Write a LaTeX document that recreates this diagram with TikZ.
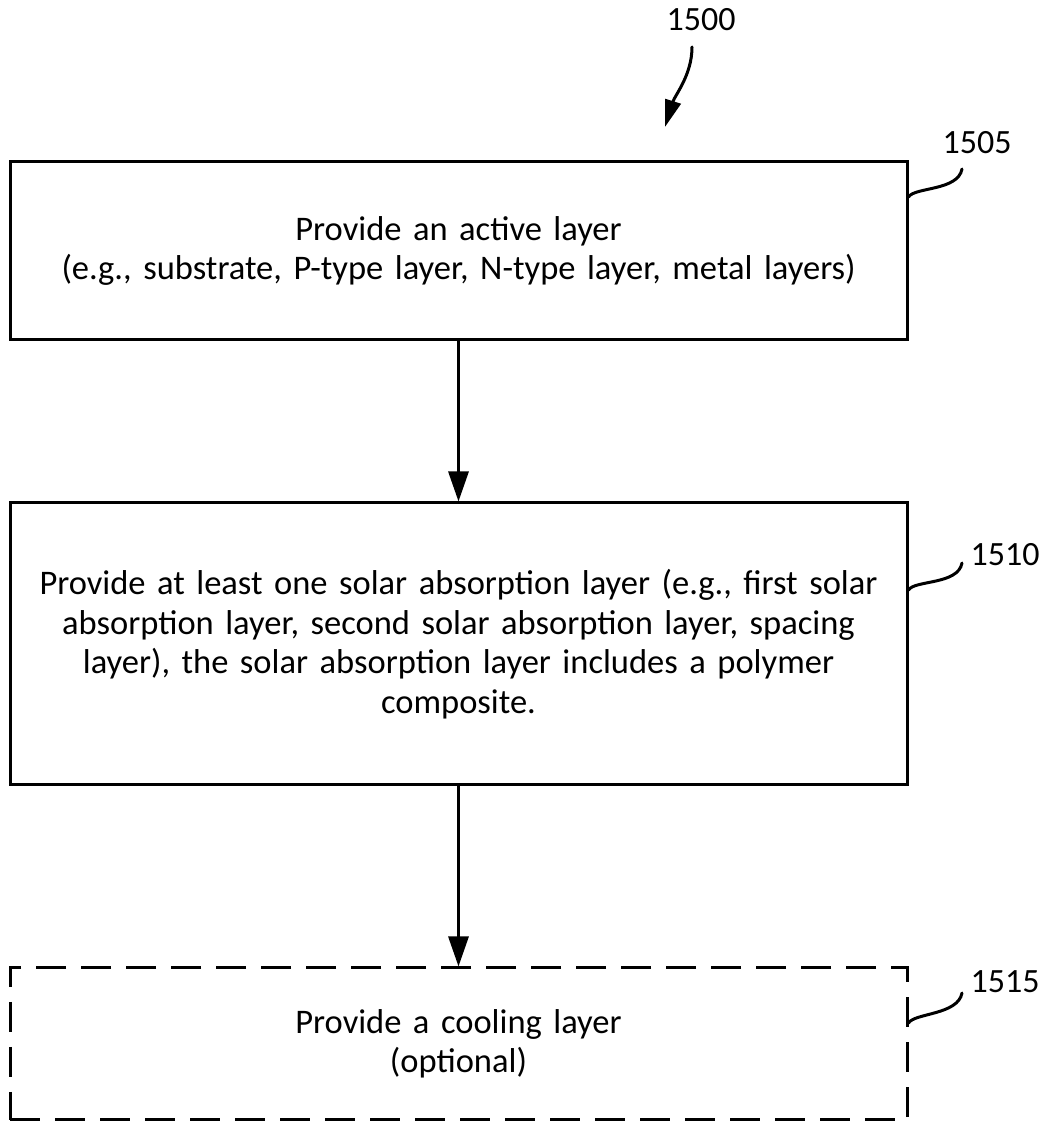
\documentclass[tikz,border=0pt]{standalone}
\usepackage{fontspec}
\setmainfont{Carlito}
\usetikzlibrary{arrows.meta,positioning}
\tikzset{
  stepbox/.style={draw=black,line width=3pt,minimum width=897pt,text width=880pt,align=center,font=\fontsize{34.5}{39.5}\selectfont},
  optbox/.style={stepbox,dash pattern=on 30pt off 15pt},
  arr/.style={-{Triangle[width=20pt,length=30pt]},line width=3pt},
  figarr/.style={-{Triangle[width=16pt,length=27pt]},line width=3pt,line cap=round},
  lead/.style={line width=3pt,line cap=round},
  reflabel/.style={font=\fontsize{34}{40}\selectfont,inner sep=0pt},
}
\begin{document}
\begin{tikzpicture}[x=1pt,y=1pt]
    \useasboundingbox (0,0) rectangle (1047,1124);
    \node[stepbox,minimum height=178pt] (act) at (458.5,873) {Provide an active layer\\(e.g., substrate, P-type layer, N-type layer, metal layers)};
    \node[stepbox,minimum height=282pt,below=160pt of act] (abs) {Provide at least one solar absorption layer (e.g., first solar\\absorption layer, second solar absorption layer, spacing\\layer), the solar absorption layer includes a polymer\\composite.};
    \node[optbox,minimum height=152pt,below=180pt of abs] (cool) {Provide a cooling layer\\(optional)};
    \draw[arr] (act) -- (abs);
    \draw[arr] (abs) -- (cool);
    % reference numerals
    \node[reflabel] (fig) at (701,1104) {1500};
    \node[reflabel] (numA) at (977,981) {1505};
    \node[reflabel] (numB) at (1005,569) {1510};
    \node[reflabel] (numC) at (1005,142) {1515};
    \coordinate (figtop) at (692,1077);
    \coordinate (figtip) at (665,997);
    \coordinate (endA) at (962,955);
    \coordinate (endB) at (962,561);
    \coordinate (endC) at (962,131);
    \draw[figarr] (figtop) .. controls +(0,-28) and +(10,32) .. (figtip);
    \draw[lead] ([yshift=54pt]act.east) .. controls +(6,10) and +(-4,-22) .. (endA);
    \draw[lead] ([yshift=54pt]abs.east) .. controls +(6,10) and +(-4,-22) .. (endB);
    \draw[lead] ([yshift=21pt]cool.east) .. controls +(6,10) and +(-4,-22) .. (endC);
\end{tikzpicture}
\end{document}
